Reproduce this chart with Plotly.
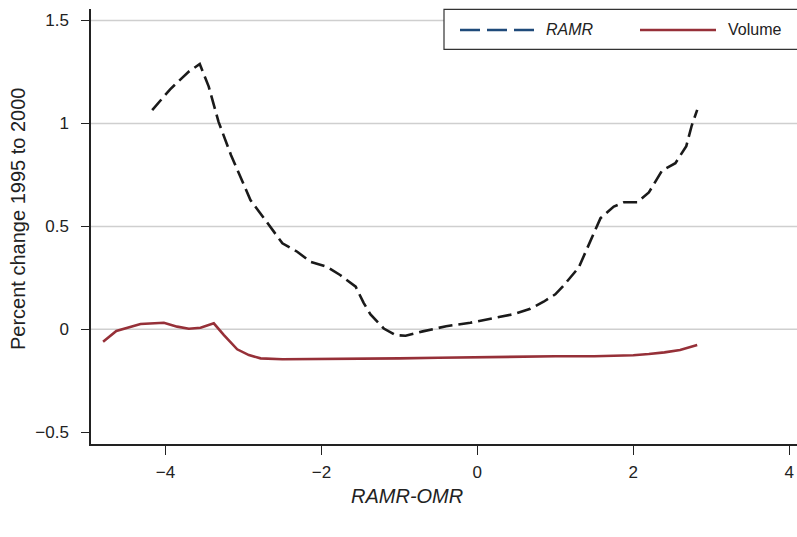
import plotly.graph_objects as go

# ---- data ----
ramr_x = [-4.17, -3.94, -3.70, -3.56, -3.445, -3.32, -3.16, -3.04, -2.91, -2.72,
          -2.50, -2.31, -2.14, -1.93, -1.76, -1.56, -1.46, -1.37, -1.20, -1.05,
          -0.92, -0.70, -0.40, -0.09, 0.21, 0.47, 0.68, 0.85, 1.00, 1.10,
          1.30, 1.46, 1.58, 1.75, 1.88, 2.05, 2.20, 2.37, 2.54, 2.68,
          2.75, 2.82]
ramr_y = [1.065, 1.166, 1.252, 1.289, 1.179, 1.009, 0.847, 0.741, 0.628, 0.531,
          0.418, 0.377, 0.328, 0.304, 0.264, 0.207, 0.130, 0.072, 0.004, -0.028,
          -0.031, -0.010, 0.015, 0.032, 0.053, 0.074, 0.100, 0.134, 0.170, 0.210,
          0.300, 0.435, 0.540, 0.596, 0.617, 0.617, 0.665, 0.772, 0.807, 0.890,
          0.990, 1.066]

vol_x = [-4.80, -4.63, -4.32, -4.02, -3.85, -3.70, -3.55, -3.38, -3.25, -3.08,
         -2.93, -2.78, -2.50, -2.00, -1.50, -1.00, -0.50, 0.00, 0.50, 1.00,
         1.50, 1.80, 2.00, 2.20, 2.40, 2.60, 2.82]
vol_y = [-0.060, -0.008, 0.026, 0.032, 0.013, 0.003, 0.008, 0.029, -0.028, -0.097,
         -0.125, -0.141, -0.145, -0.144, -0.144, -0.141, -0.138, -0.135, -0.133, -0.131,
         -0.131, -0.130, -0.126, -0.120, -0.112, -0.100, -0.076]

x_ticks = [-4, -2, 0, 2, 4]
y_ticks = [-0.5, 0, 0.5, 1, 1.5]
grid_vals = [0, 0.5, 1, 1.5]

series_names = ["RAMR", "Volume"]
ramr_color = "#1a1a1a"
ramr_legend_color = "#1f4a7a"
vol_color = "#963038"

FONT = "Liberation Sans, Arial, Helvetica, sans-serif"
W, H = 797, 537
# plot box in page pixels
SX0, SX1, SY0, SY1 = 91, 797, 9, 444
L, R, T, B = SX0, W - SX1, SY0, H - SY1

def px_x(p):  # page px -> paper
    return (p - SX0) / (SX1 - SX0)

def px_y(p):
    return (SY1 - p) / (SY1 - SY0)

fig = go.Figure()
fig.add_trace(go.Scatter(x=ramr_x, y=ramr_y, mode="lines", name=series_names[0],
                         line=dict(color=ramr_color, width=2.6, dash="14px,6px"),
                         showlegend=False))
fig.add_trace(go.Scatter(x=vol_x, y=vol_y, mode="lines", name=series_names[1],
                         line=dict(color=vol_color, width=2.6),
                         showlegend=False))

shapes = []
for g in grid_vals:
    shapes.append(dict(type="line", xref="paper", yref="y", x0=0, x1=1, y0=g, y1=g,
                       line=dict(color="#cfcfcf", width=1.5), layer="below"))

# legend box
shapes.append(dict(type="rect", xref="paper", yref="paper",
                   x0=px_x(444), x1=px_x(802), y0=px_y(49.3), y1=px_y(9.3),
                   line=dict(color="#333333", width=1.2), fillcolor="white"))
ly = px_y(30)
shapes.append(dict(type="line", xref="paper", yref="paper", x0=px_x(460), x1=px_x(537),
                   y0=ly, y1=ly, line=dict(color=ramr_legend_color, width=2.6, dash="20px,7px")))
shapes.append(dict(type="line", xref="paper", yref="paper", x0=px_x(640), x1=px_x(716),
                   y0=ly, y1=ly, line=dict(color=vol_color, width=2.6)))

annotations = [
    dict(text="<i>RAMR</i>", xref="paper", yref="paper", x=px_x(544), y=ly,
         xanchor="left", yanchor="middle", showarrow=False,
         font=dict(family=FONT, size=16, color="#222222")),
    dict(text="Volume", xref="paper", yref="paper", x=px_x(726), y=ly,
         xanchor="left", yanchor="middle", showarrow=False,
         font=dict(family=FONT, size=16, color="#222222")),
    dict(text="<i>RAMR-OMR</i>", xref="paper", yref="paper", x=px_x(407), y=px_y(496),
         xanchor="center", yanchor="middle", showarrow=False,
         font=dict(family=FONT, size=20, color="#222222")),
    dict(text="Percent change 1995 to 2000", xref="paper", yref="paper",
         x=px_x(18), y=px_y(219), xanchor="center", yanchor="middle", textangle=-90,
         showarrow=False, font=dict(family=FONT, size=20, color="#222222")),
]

fig.update_layout(
    width=W, height=H,
    margin=dict(l=L, r=R, t=T, b=B, pad=0),
    paper_bgcolor="white", plot_bgcolor="white",
    showlegend=False,
    font=dict(family=FONT, size=17, color="#222222"),
    shapes=shapes, annotations=annotations,
    xaxis=dict(range=[-4.955, 4.10], tickvals=x_ticks, showgrid=False, zeroline=False,
               showline=True, linecolor="#222222", linewidth=1.5,
               ticks="outside", ticklen=9, tickwidth=1.3, tickcolor="#222222",
               ticklabelstandoff=3, tickfont=dict(size=17)),
    yaxis=dict(range=[-0.557, 1.556], tickvals=y_ticks, showgrid=False, zeroline=False,
               showline=True, linecolor="#222222", linewidth=1.5,
               ticks="outside", ticklen=8, tickwidth=1.3, tickcolor="#222222",
               ticklabelstandoff=9, tickfont=dict(size=17)),
)

fig.write_html(
    "out.html",
    config={"displayModeBar": False},
    post_script="document.body.style.margin='0';document.body.style.overflow='hidden';"
                "document.documentElement.style.overflow='hidden';",
)
